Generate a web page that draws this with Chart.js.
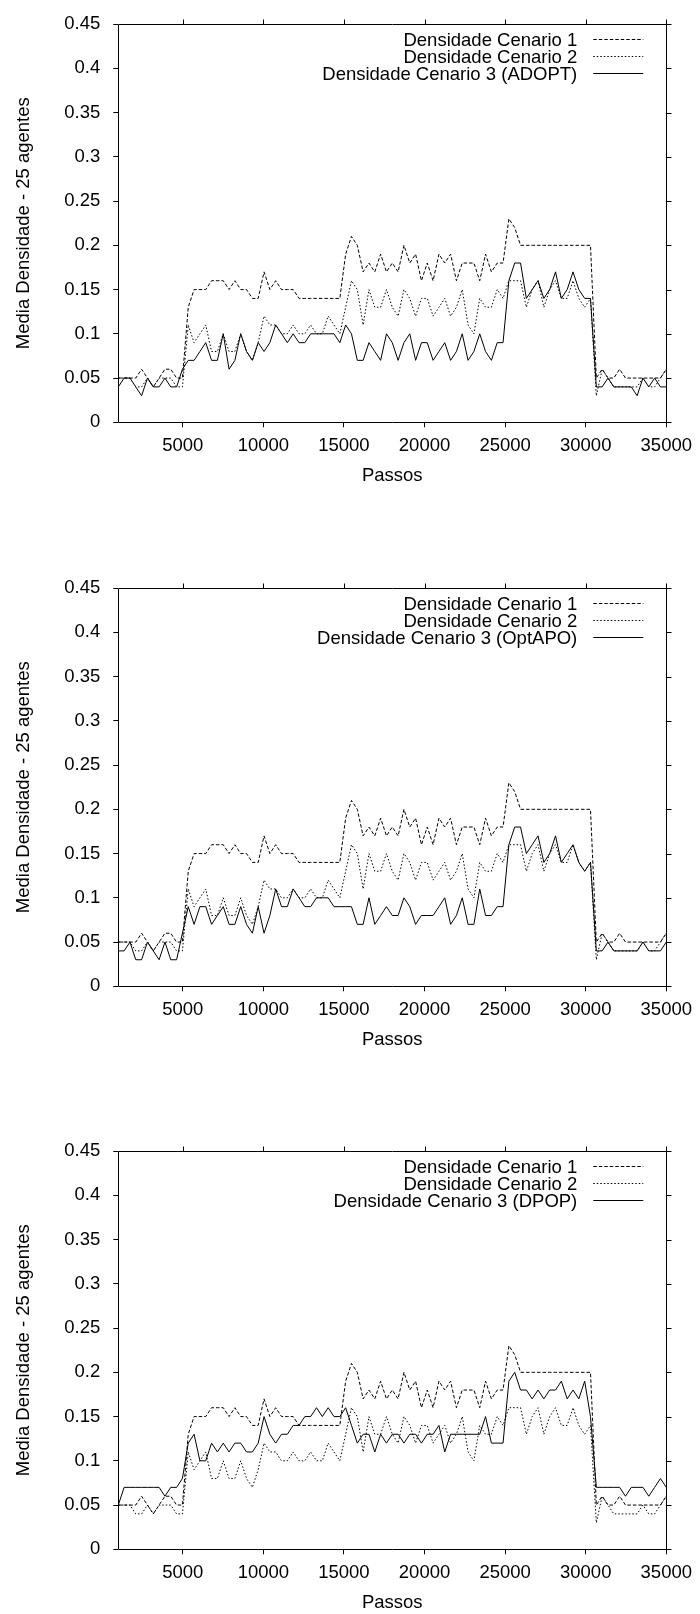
<!DOCTYPE html>
<html>
<head>
<meta charset="utf-8">
<title>Media Densidade - 25 agentes</title>
<script src="https://cdn.jsdelivr.net/npm/chart.js@4.4.1/dist/chart.umd.min.js"></script>
<style>
  body { margin: 0; background: #fff; overflow: hidden; }
  .panel { position: absolute; left: 0; width: 700px; height: 487px; }
</style>
</head>
<body>
<div class="panel" style="top:0"><canvas id="chart1" width="700" height="487"></canvas></div>
<div class="panel" style="top:564px"><canvas id="chart2" width="700" height="487"></canvas></div>
<div class="panel" style="top:1127px"><canvas id="chart3" width="700" height="487"></canvas></div>
<script>
// simulation step of each sample
const steps = [
  1000, 1362, 1723, 2085, 2447, 2809, 3170, 3532, 3894, 4255,
  4617, 4979, 5340, 5702, 6064, 6426, 6787, 7149, 7511, 7872,
  8234, 8596, 8957, 9319, 9681, 10043, 10404, 10766, 11128, 11489,
  11851, 12213, 12574, 12936, 13298, 13660, 14021, 14383, 14745, 15106,
  15468, 15830, 16191, 16553, 16915, 17277, 17638, 18000, 18362, 18723,
  19085, 19447, 19809, 20170, 20532, 20894, 21255, 21617, 21979, 22340,
  22702, 23064, 23426, 23787, 24149, 24511, 24872, 25234, 25596, 25957,
  26319, 26681, 27043, 27404, 27766, 28128, 28489, 28851, 29213, 29574,
  29936, 30298, 30660, 31021, 31383, 31745, 32106, 32468, 32830, 33191,
  33553, 33915, 34277, 34638, 35000
];

// Densidade Cenario 1 (same in the three plots)
const cenario1 = [
  0.05, 0.05, 0.05, 0.05, 0.06, 0.05, 0.04, 0.05, 0.06, 0.06,
  0.05, 0.05, 0.13, 0.15, 0.15, 0.15, 0.16, 0.16, 0.16, 0.15,
  0.16, 0.15, 0.15, 0.14, 0.14, 0.17, 0.15, 0.16, 0.15, 0.15,
  0.15, 0.14, 0.14, 0.14, 0.14, 0.14, 0.14, 0.14, 0.14, 0.19,
  0.21, 0.20, 0.17, 0.18, 0.17, 0.19, 0.17, 0.18, 0.17, 0.20,
  0.18, 0.19, 0.16, 0.18, 0.16, 0.19, 0.18, 0.19, 0.16, 0.18,
  0.18, 0.18, 0.16, 0.19, 0.17, 0.18, 0.18, 0.23, 0.22, 0.20,
  0.20, 0.20, 0.20, 0.20, 0.20, 0.20, 0.20, 0.20, 0.20, 0.20,
  0.20, 0.20, 0.05, 0.06, 0.05, 0.05, 0.06, 0.05, 0.05, 0.05,
  0.05, 0.05, 0.05, 0.05, 0.06
];

// Densidade Cenario 2 (same in the three plots)
const cenario2 = [
  0.05, 0.05, 0.05, 0.04, 0.04, 0.05, 0.04, 0.05, 0.05, 0.05,
  0.04, 0.04, 0.11, 0.09, 0.10, 0.11, 0.08, 0.08, 0.10, 0.08,
  0.08, 0.10, 0.08, 0.07, 0.09, 0.12, 0.11, 0.11, 0.10, 0.10,
  0.11, 0.10, 0.10, 0.11, 0.10, 0.10, 0.12, 0.11, 0.10, 0.13,
  0.16, 0.15, 0.11, 0.15, 0.13, 0.13, 0.15, 0.13, 0.12, 0.15,
  0.14, 0.12, 0.14, 0.14, 0.12, 0.13, 0.14, 0.12, 0.13, 0.15,
  0.11, 0.10, 0.14, 0.13, 0.13, 0.15, 0.14, 0.16, 0.16, 0.16,
  0.13, 0.15, 0.16, 0.13, 0.15, 0.16, 0.14, 0.14, 0.16, 0.14,
  0.13, 0.14, 0.03, 0.06, 0.05, 0.04, 0.04, 0.04, 0.04, 0.04,
  0.05, 0.04, 0.04, 0.05, 0.06
];

// Densidade Cenario 3, one per algorithm
const adopt = [
  0.04, 0.05, 0.05, 0.04, 0.03, 0.05, 0.04, 0.04, 0.05, 0.04,
  0.04, 0.06, 0.07, 0.07, 0.08, 0.09, 0.07, 0.07, 0.10, 0.06,
  0.07, 0.10, 0.08, 0.07, 0.09, 0.08, 0.09, 0.11, 0.10, 0.09,
  0.10, 0.09, 0.09, 0.10, 0.10, 0.10, 0.10, 0.10, 0.09, 0.11,
  0.10, 0.07, 0.07, 0.09, 0.08, 0.07, 0.10, 0.09, 0.07, 0.09,
  0.10, 0.07, 0.09, 0.09, 0.07, 0.08, 0.09, 0.07, 0.08, 0.10,
  0.07, 0.08, 0.10, 0.08, 0.07, 0.09, 0.09, 0.16, 0.18, 0.18,
  0.14, 0.15, 0.16, 0.14, 0.15, 0.17, 0.14, 0.15, 0.17, 0.15,
  0.14, 0.14, 0.04, 0.04, 0.05, 0.04, 0.04, 0.04, 0.04, 0.03,
  0.05, 0.04, 0.05, 0.04, 0.04
];

const optapo = [
  0.04, 0.04, 0.05, 0.03, 0.03, 0.05, 0.04, 0.03, 0.05, 0.03,
  0.03, 0.06, 0.09, 0.07, 0.09, 0.09, 0.07, 0.08, 0.09, 0.07,
  0.07, 0.09, 0.07, 0.06, 0.09, 0.06, 0.08, 0.11, 0.09, 0.09,
  0.11, 0.10, 0.09, 0.09, 0.10, 0.10, 0.10, 0.09, 0.09, 0.09,
  0.09, 0.07, 0.07, 0.10, 0.07, 0.08, 0.09, 0.08, 0.08, 0.10,
  0.09, 0.07, 0.08, 0.08, 0.08, 0.09, 0.10, 0.07, 0.08, 0.10,
  0.07, 0.07, 0.11, 0.08, 0.08, 0.09, 0.09, 0.16, 0.18, 0.18,
  0.15, 0.16, 0.17, 0.14, 0.15, 0.17, 0.14, 0.15, 0.16, 0.14,
  0.13, 0.14, 0.04, 0.04, 0.05, 0.04, 0.04, 0.04, 0.04, 0.04,
  0.05, 0.04, 0.04, 0.04, 0.05
];

const dpop = [
  0.05, 0.07, 0.07, 0.07, 0.07, 0.07, 0.07, 0.07, 0.06, 0.07,
  0.07, 0.08, 0.12, 0.13, 0.10, 0.10, 0.12, 0.11, 0.12, 0.11,
  0.12, 0.12, 0.11, 0.11, 0.12, 0.15, 0.13, 0.12, 0.13, 0.13,
  0.14, 0.14, 0.15, 0.15, 0.16, 0.15, 0.16, 0.15, 0.15, 0.16,
  0.14, 0.12, 0.13, 0.13, 0.11, 0.13, 0.12, 0.13, 0.13, 0.12,
  0.13, 0.13, 0.12, 0.13, 0.13, 0.14, 0.11, 0.13, 0.13, 0.13,
  0.13, 0.13, 0.13, 0.15, 0.12, 0.12, 0.12, 0.19, 0.20, 0.18,
  0.18, 0.17, 0.18, 0.17, 0.18, 0.18, 0.19, 0.17, 0.18, 0.17,
  0.19, 0.15, 0.07, 0.07, 0.07, 0.07, 0.07, 0.06, 0.07, 0.07,
  0.07, 0.06, 0.07, 0.08, 0.07
];

const xTickValues = [5000, 10000, 15000, 20000, 25000, 30000, 35000];
const yTickLabels = ['0', '0.05', '0.1', '0.15', '0.2', '0.25', '0.3', '0.35', '0.4', '0.45'];

const FONT = "'Liberation Sans', Arial, Helvetica, sans-serif";
const FONT_SIZE = 18.5;

function points(values) {
  return steps.map((x, i) => ({ x: x, y: values[i] }));
}

// box round the plot, mirrored ticks on top and right, and the key
const gnuplotFrame = {
  id: 'gnuplotFrame',
  afterDraw(chart) {
    const ctx = chart.ctx;
    const a = chart.chartArea;
    const xs = chart.scales.x, ys = chart.scales.y;
    const L = Math.round(a.left) + 0.5, R = Math.round(a.right) + 0.5;
    const T = Math.round(a.top) + 0.5, B = Math.round(a.bottom) + 0.5;
    ctx.save();
    ctx.strokeStyle = '#000';
    ctx.lineWidth = 1;
    ctx.setLineDash([]);
    ctx.beginPath();
    ctx.moveTo(L, T); ctx.lineTo(R, T); ctx.lineTo(R, B); ctx.lineTo(L, B); ctx.closePath();
    xs.ticks.forEach(t => {
      const px = Math.round(xs.getPixelForValue(t.value)) + 0.5;
      ctx.moveTo(px, T); ctx.lineTo(px, T - 5);
    });
    ys.ticks.forEach(t => {
      const py = Math.round(ys.getPixelForValue(t.value)) + 0.5;
      ctx.moveTo(R, py); ctx.lineTo(R + 5, py);
    });
    ctx.stroke();

    // key, gnuplot style: text right-justified, sample to the right
    ctx.font = FONT_SIZE + 'px ' + FONT;
    ctx.fillStyle = '#000';
    ctx.textAlign = 'right';
    ctx.textBaseline = 'middle';
    chart.data.datasets.forEach((ds, i) => {
      const y = Math.round(a.top + 15 + i * 17) + 0.5;
      ctx.fillText(ds.label, a.right - 89, y + 1);
      ctx.setLineDash(ds.borderDash || []);
      ctx.beginPath();
      ctx.moveTo(a.right - 73, y);
      ctx.lineTo(a.right - 23, y);
      ctx.stroke();
    });
    ctx.restore();
  }
};

function makeChart(id, label3, values3) {
  return new Chart(document.getElementById(id), {
    type: 'line',
    data: {
      datasets: [
        { label: 'Densidade Cenario 1', data: points(cenario1), borderDash: [3.5, 2], order: 2 },
        { label: 'Densidade Cenario 2', data: points(cenario2), borderDash: [1.5, 2], order: 1 },
        { label: label3, data: points(values3), borderDash: [], order: 0 }
      ]
    },
    options: {
      responsive: false,
      animation: false,
      devicePixelRatio: 1,
      layout: { padding: { top: 17.3, right: 31.7, left: 0, bottom: 0 } },
      elements: {
        point: { radius: 0 },
        line: { borderWidth: 1, borderColor: '#000', tension: 0, fill: false }
      },
      datasets: { line: { borderColor: '#000', backgroundColor: '#000' } },
      plugins: { legend: { display: false }, tooltip: { enabled: false } },
      scales: {
        x: {
          type: 'linear',
          min: 1000,
          max: 35000,
          afterBuildTicks: axis => { axis.ticks = xTickValues.map(v => ({ value: v })); },
          afterFit: axis => { axis.height = 64.7; },
          grid: { display: true, drawOnChartArea: false, drawTicks: true, tickLength: 5, color: '#000' },
          border: { display: false },
          ticks: {
            autoSkip: false, maxRotation: 0, padding: 8, color: '#000',
            font: { family: FONT, size: FONT_SIZE },
            callback: v => String(v)
          },
          title: {
            display: true, text: 'Passos', color: '#000',
            font: { family: FONT, size: FONT_SIZE },
            padding: { top: 0, bottom: 0 }
          }
        },
        y: {
          min: 0,
          max: 0.45,
          afterFit: axis => { axis.width = 118.3; },
          grid: { display: true, drawOnChartArea: false, drawTicks: true, tickLength: 5, color: '#000' },
          border: { display: false },
          ticks: {
            stepSize: 0.05, padding: 13, color: '#000',
            font: { family: FONT, size: FONT_SIZE },
            callback: v => yTickLabels.find(l => Math.abs(Number(l) - v) < 1e-9) ?? ''
          },
          title: {
            display: true, text: 'Media Densidade - 25 agentes', color: '#000',
            font: { family: FONT, size: FONT_SIZE },
            padding: { top: 13, bottom: 0 }
          }
        }
      }
    },
    plugins: [gnuplotFrame]
  });
}

makeChart('chart1', 'Densidade Cenario 3 (ADOPT)', adopt);
makeChart('chart2', 'Densidade Cenario 3 (OptAPO)', optapo);
makeChart('chart3', 'Densidade Cenario 3 (DPOP)', dpop);
</script>
</body>
</html>
